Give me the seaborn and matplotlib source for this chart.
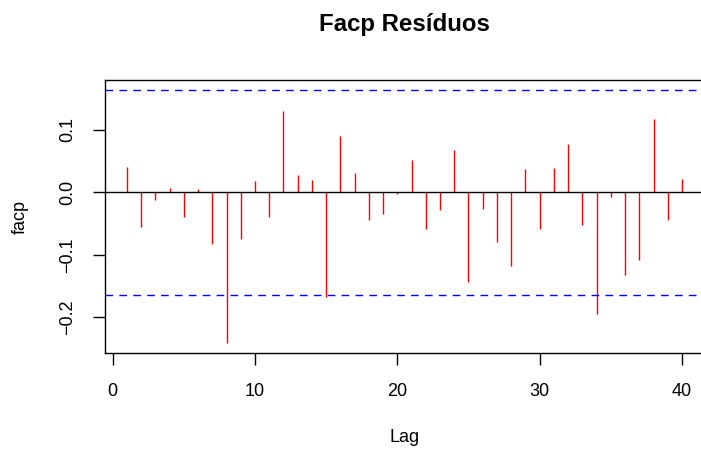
import numpy as np
import pandas as pd
import seaborn as sns
import matplotlib.pyplot as plt

# partial autocorrelation of the residuals, lags 1..40
lags = list(range(1, 41))
facp = [0.040, -0.055, -0.013, 0.007, -0.039, 0.005, -0.083, -0.242, -0.075, 0.018,
        -0.040, 0.131, 0.027, 0.019, -0.167, 0.091, 0.031, -0.045, -0.034, -0.002,
        0.052, -0.058, -0.029, 0.068, -0.143, -0.027, -0.080, -0.118, 0.037, -0.058,
        0.039, 0.077, -0.053, -0.195, -0.007, -0.132, -0.108, 0.118, -0.045, 0.022]
conf_limit = 0.1637
x_ticks = [0, 10, 20, 30, 40]
y_ticks = [-0.2, -0.1, 0.0, 0.1]

df = pd.DataFrame({"Lag": lags, "facp": facp})

sns.set_style("ticks")
plt.rcParams["font.family"] = ["Liberation Sans", "DejaVu Sans"]
plt.rcParams["lines.scale_dashes"] = False
for k in ("text.color", "axes.labelcolor", "xtick.color", "ytick.color", "axes.edgecolor"):
    plt.rcParams[k] = "black"

fig = plt.figure(figsize=(7.01, 4.58), dpi=100)
W, H = 701, 458
left, right, top, bottom = 104.7, 704.2, 80, 353.3
ax = fig.add_axes([left / W, 1 - bottom / H, (right - left) / W, (bottom - top) / H])

ax.vlines(df["Lag"], 0, df["facp"], color="red", linewidth=1.0)
ax.axhline(0, color="black", linewidth=1.0)
for c in (conf_limit, -conf_limit):
    ax.axhline(c, color="blue", linewidth=1.0, linestyle=(0, (5.5, 4.5)))

ax.set_xlim(-0.56, 41.56)
ax.set_ylim(-0.2578, 0.1799)
ax.set_xticks(x_ticks)
ax.set_yticks(y_ticks)
ax.set_yticklabels(["\u22120.2", "\u22120.1", "0.0", "0.1"], rotation=90, va="center")

for s in ax.spines.values():
    s.set_linewidth(1.0)
    s.set_color("black")
ax.tick_params(axis="both", length=8.6, width=1.0, labelsize=13, color="black")
ax.tick_params(axis="x", pad=13)
ax.tick_params(axis="y", pad=12)

ax.set_xlabel("Lag", fontsize=13)
ax.xaxis.set_label_coords(0.5, -(437 - bottom) / (bottom - top), transform=ax.transAxes)
ax.set_ylabel("facp", fontsize=13)
ax.yaxis.set_label_coords(-(left - 20) / (right - left), 0.5, transform=ax.transAxes)
ax.xaxis.label.set_va("center")
ax.yaxis.label.set_va("center")

fig.text(404.5 / W, 1 - 25 / H, "Facp Resíduos", ha="center", va="center",
         fontsize=17.3, fontweight="bold")

fig.savefig("out.png", dpi=100)
